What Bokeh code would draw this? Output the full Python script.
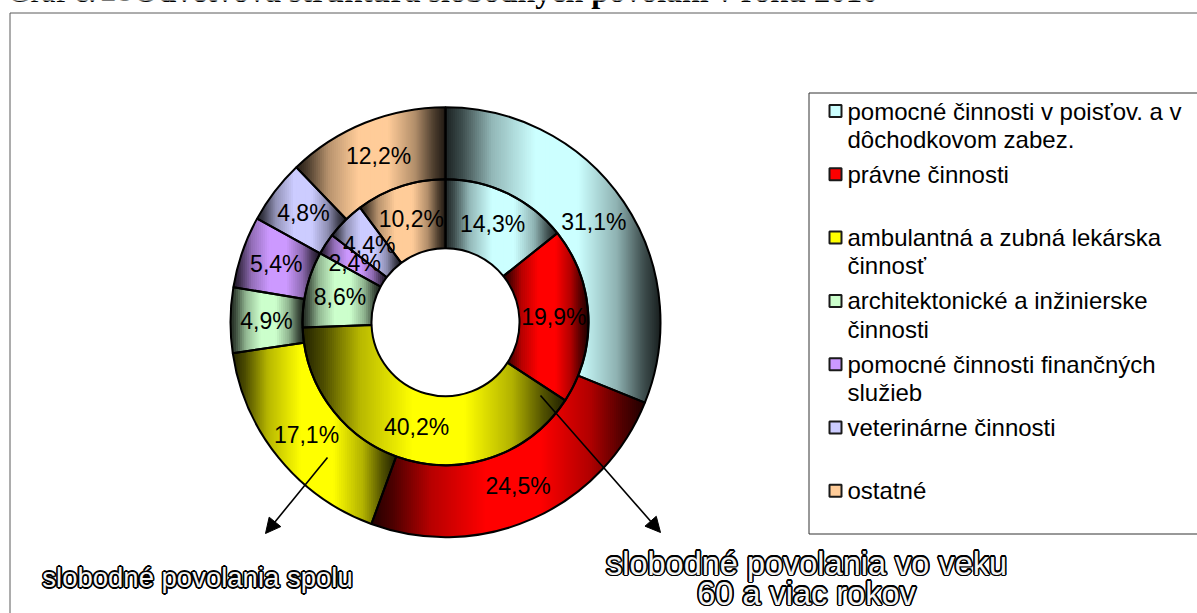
import numpy as np
from bokeh.plotting import figure
from bokeh.models import Range1d, Arrow, NormalHead, ColumnDataSource
from bokeh.core.properties import value
from bokeh.embed import file_html
from bokeh.resources import INLINE

# ---------------- data ----------------
categories = [
    "pomocné činnosti v poisťov. a v dôchodkovom zabez.",
    "právne činnosti",
    "ambulantná a zubná lekárska činnosť",
    "architektonické a inžinierske činnosti",
    "pomocné činnosti finančných služieb",
    "veterinárne činnosti",
    "ostatné",
]
legend_lines = [
    ["pomocné činnosti v poisťov. a v", "dôchodkovom zabez."],
    ["právne činnosti"],
    ["ambulantná a zubná lekárska", "činnosť"],
    ["architektonické a inžinierske", "činnosti"],
    ["pomocné činnosti finančných", "služieb"],
    ["veterinárne činnosti"],
    ["ostatné"],
]
# outer ring: slobodné povolania spolu
outer_values = [31.1, 24.5, 17.1, 4.9, 5.4, 4.8, 12.2]
# inner ring: slobodné povolania vo veku 60 a viac rokov
inner_values = [14.3, 19.9, 40.2, 8.6, 2.4, 4.4, 10.2]
colors = ["#CCFFFF", "#FF0000", "#FFFF00", "#CCFFCC", "#CC99FF", "#CCCCFF", "#FFCC99"]

title_parts = ["Graf č.", "28", "Odvetvová štruktúra slobodných povolaní v roku 2010"]
label_total = "slobodné povolania spolu"
label_old = ["slobodné povolania vo veku", "60 a viac rokov"]

# ---------------- layout ----------------
W, H = 1197, 613


def X(px):
    return px


def Y(py):
    return H - py


CX, CY = X(445), Y(321.7)
R_HOLE, R_MID, R_OUT = 74, 143, 215

p = figure(width=W, height=H, output_backend="svg", toolbar_location=None,
           x_range=Range1d(0, W), y_range=Range1d(0, H), min_border=0)
p.axis.visible = False
p.grid.visible = False
p.outline_line_color = None
p.background_fill_color = "white"
p.border_fill_color = "white"

SANS = value("Liberation Sans")
SERIF = value("Liberation Serif")

# outer frame of the chart area
p.line(x=[X(9.5), X(9.5), X(1300)], y=[Y(700), Y(12.5), Y(12.5)],
       line_color="#5a5a5a", line_width=1)

# title (cut by top of page as in the reference)
ty = Y(-10)
p.text(x=[X(7)], y=[ty], text=[title_parts[0]], text_font=SERIF,
       text_font_size="32px", text_baseline="middle", text_color="black")
p.text(x=[X(100)], y=[ty], text=[title_parts[1]], text_font=SERIF,
       text_font_size="32px", text_baseline="middle", text_color="black")
p.text(x=[X(133)], y=[ty], text=[title_parts[2]], text_font=SERIF,
       text_font_size="32px", text_font_style="bold", text_baseline="middle",
       text_color="black")


# ---------------- gradient donut ----------------
def sector_poly(r0, r1, a0, a1, n=160):
    th = np.linspace(a0, a1, n)
    xo = CX + r1 * np.sin(th)
    yo = CY + r1 * np.cos(th)
    xi = CX + r0 * np.sin(th[::-1])
    yi = CY + r0 * np.cos(th[::-1])
    return list(zip(np.concatenate([xo, xi]), np.concatenate([yo, yi])))


def clip_half(poly, xlim, keep_greater):
    out = []
    n = len(poly)
    for i in range(n):
        cur = poly[i]
        prev = poly[i - 1]
        cin = cur[0] >= xlim if keep_greater else cur[0] <= xlim
        pin = prev[0] >= xlim if keep_greater else prev[0] <= xlim
        if cin:
            if not pin:
                t = (xlim - prev[0]) / (cur[0] - prev[0])
                out.append((xlim, prev[1] + t * (cur[1] - prev[1])))
            out.append(cur)
        elif pin:
            t = (xlim - prev[0]) / (cur[0] - prev[0])
            out.append((xlim, prev[1] + t * (cur[1] - prev[1])))
    return out


def shade(hexcol, f):
    r = int(hexcol[1:3], 16); g = int(hexcol[3:5], 16); b = int(hexcol[5:7], 16)
    return "#%02x%02x%02x" % (int(r * f), int(g * f), int(b * f))


tp = [0, 0.08, 0.22, 0.42, 0.62, 0.8, 0.92, 1]
fp = [0.13, 0.3, 0.72, 1, 1, 0.7, 0.32, 0.13]

xs_all, ys_all, cols_all = [], [], []
wedges = {"start": [], "end": [], "r0": [], "r1": []}
labels = {"x": [], "y": [], "t": []}

for vals, r0, r1 in [(outer_values, R_MID, R_OUT), (inner_values, R_HOLE, R_MID)]:
    total = float(sum(vals))
    cum = 0.0
    for v, col in zip(vals, colors):
        a0 = 2 * np.pi * cum / total
        a1 = 2 * np.pi * (cum + v) / total
        cum += v
        poly = sector_poly(r0, r1, a0, a1)
        pxs = [q[0] for q in poly]
        bx0, bx1 = min(pxs), max(pxs)
        nstr = max(int((bx1 - bx0) / 2.0), 1)
        edges = np.linspace(bx0, bx1, nstr + 1)
        for k in range(nstr):
            xa, xb = edges[k], edges[k + 1]
            pc = clip_half(poly, xa - 0.7, True)
            if len(pc) < 3:
                continue
            pc = clip_half(pc, xb + 0.7, False)
            if len(pc) < 3:
                continue
            t = ((xa + xb) / 2 - bx0) / (bx1 - bx0)
            xs_all.append([q[0] for q in pc])
            ys_all.append([q[1] for q in pc])
            cols_all.append(shade(col, float(np.interp(t, tp, fp))))
        wedges["start"].append(np.pi / 2 - a0)
        wedges["end"].append(np.pi / 2 - a1)
        wedges["r0"].append(r0)
        wedges["r1"].append(r1)
        am = (a0 + a1) / 2
        rm = (r0 + r1) / 2
        labels["x"].append(CX + rm * np.sin(am))
        labels["y"].append(CY + rm * np.cos(am))
        labels["t"].append(("%.1f" % v).replace(".", ",") + "%")

p.patches(xs="xs", ys="ys", fill_color="c", line_color=None,
          source=ColumnDataSource(dict(xs=xs_all, ys=ys_all, c=cols_all)))

n = len(wedges["start"])
p.annular_wedge(x=[CX] * n, y=[CY] * n, inner_radius=wedges["r0"], outer_radius=wedges["r1"],
                start_angle=wedges["start"], end_angle=wedges["end"], direction="clock",
                fill_color=None, line_color="black", line_width=2)

p.text(x=labels["x"], y=labels["y"], text=labels["t"], text_font=SANS,
       text_font_size="23px", text_align="center", text_baseline="middle",
       text_color="black")

# ---------------- arrows ----------------
p.add_layout(Arrow(end=NormalHead(size=15, fill_color="black", line_color="black"),
                   x_start=X(327), y_start=Y(457), x_end=X(265), y_end=Y(533),
                   line_width=1.6, line_color="black"))
p.add_layout(Arrow(end=NormalHead(size=15, fill_color="black", line_color="black"),
                   x_start=X(540), y_start=Y(395), x_end=X(660), y_end=Y(532),
                   line_width=1.6, line_color="black"))

# ---------------- legend ----------------
p.quad(left=[X(808.5)], right=[X(1300)], top=[Y(92.5)], bottom=[Y(533.5)],
       fill_color="white", line_color="#333333", line_width=1)

leg_sq_x, leg_sq_y, leg_tx, leg_ty, leg_tt = [], [], [], [], []
for i, lines in enumerate(legend_lines):
    ycen = 110.5 + 63.3 * i
    leg_sq_x.append(X(835))
    leg_sq_y.append(Y(ycen))
    for j, ln in enumerate(lines):
        leg_tx.append(X(847))
        leg_ty.append(Y(ycen + 28.3 * j))
        leg_tt.append(ln)

p.rect(x=leg_sq_x, y=leg_sq_y, width=12, height=12, fill_color=colors,
       line_color="#1a1a1a", line_width=2)
p.text(x=leg_tx, y=leg_ty, text=leg_tt, text_font=SANS, text_font_size="24px",
       text_align="left", text_baseline="middle", text_color="black")


# ---------------- outlined captions ----------------
def outlined(xc, ymid, txt, size):
    offs = [(1.6 * np.cos(a), 1.6 * np.sin(a)) for a in np.linspace(0, 2 * np.pi, 12, endpoint=False)]
    p.text(x=[xc + dx for dx, dy in offs], y=[ymid + dy for dx, dy in offs], text=[txt] * len(offs),
           text_font=SANS, text_font_size=size, text_align="center",
           text_baseline="middle", text_color="black")
    p.text(x=[xc], y=[ymid], text=[txt], text_font=SANS, text_font_size=size,
           text_align="center", text_baseline="middle", text_color="#f4f4f4")


outlined(X(197), Y(577), label_total, "27.5px")
outlined(X(806), Y(563), label_old[0], "32.5px")
outlined(X(806), Y(593), label_old[1], "32.5px")

open("out.html", "w").write(file_html(p, INLINE))
